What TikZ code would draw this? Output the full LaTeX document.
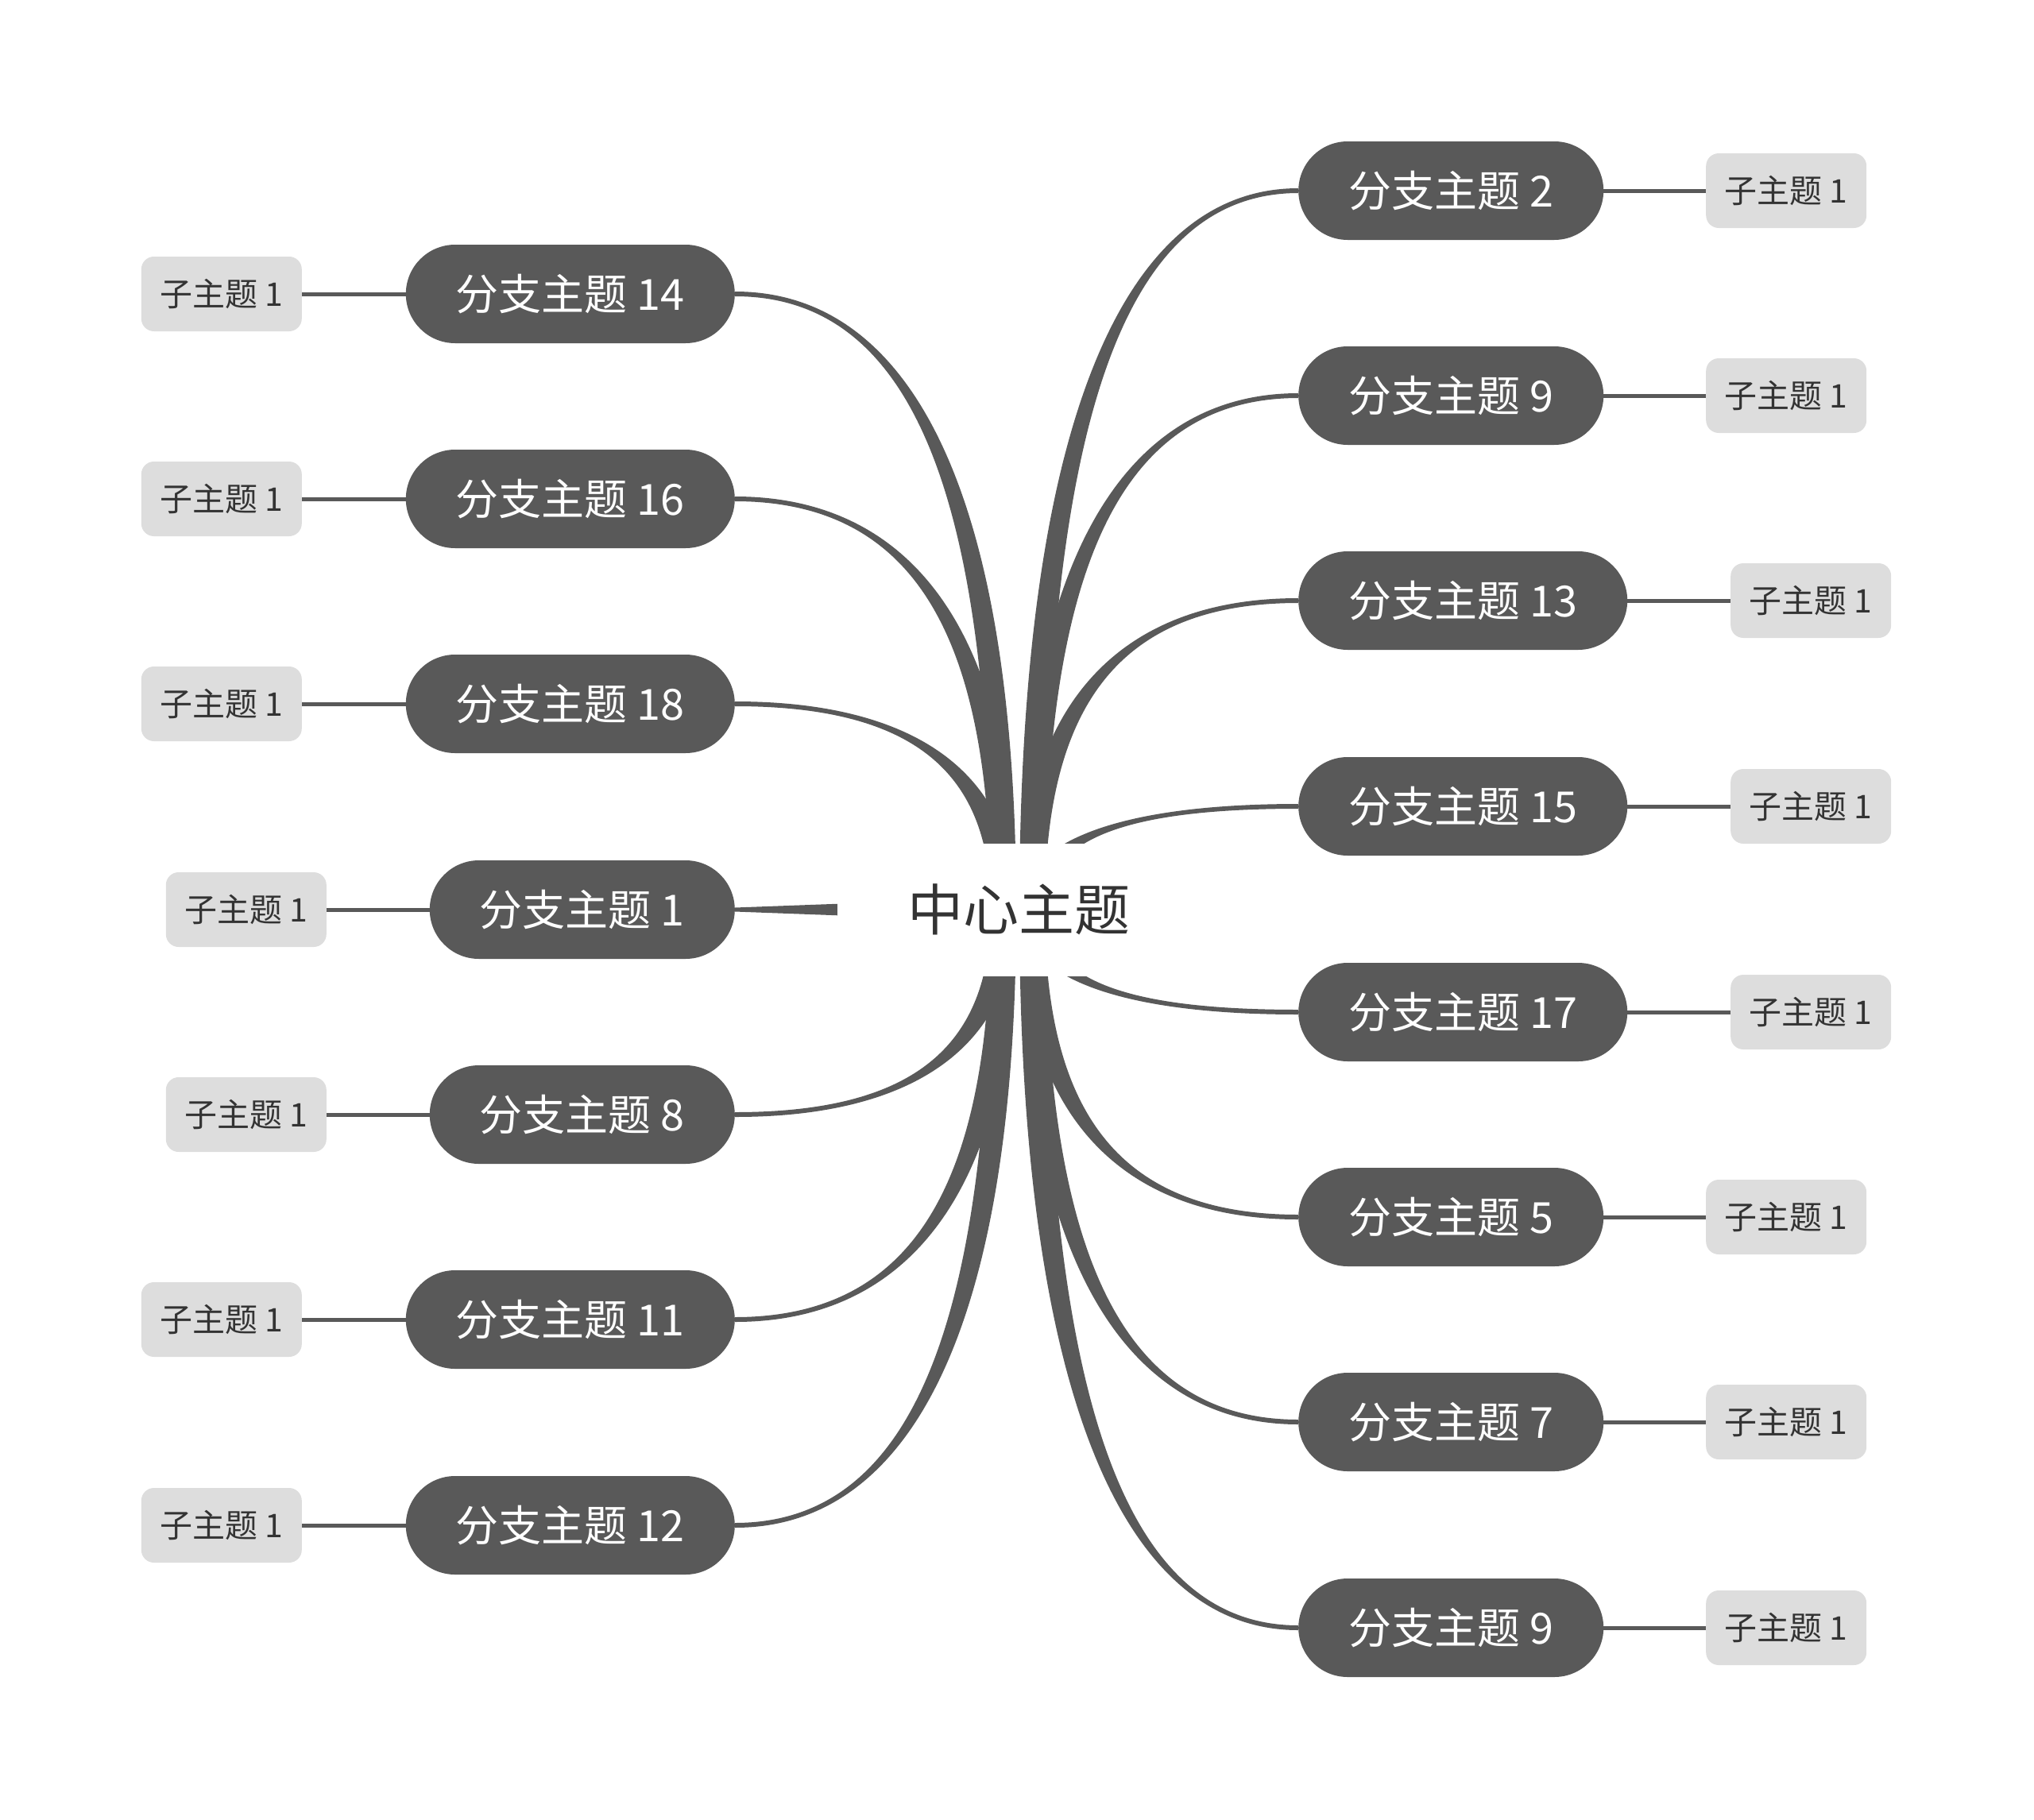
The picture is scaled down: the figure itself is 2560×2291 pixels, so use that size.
\documentclass[tikz,border=0pt]{standalone}
\usepackage{fontspec}
\setmainfont{Noto Sans CJK SC}
\usetikzlibrary{calc}
\definecolor{dk}{HTML}{595959}
\definecolor{lt}{HTML}{DDDDDD}
\definecolor{tx}{HTML}{333333}
\pgfdeclarelayer{bg}
\pgfsetlayers{bg,main}
% #1 node anchor, #2 centre coordinate, #3 y side, #4 x side
\newcommand\mmtaper[4]{%
  \fill[linkc] let \p1=(#1), \p2=(#2) in
    (\x1,{\y1+(#3)*3pt}) .. controls ({\x1+2/3*(\x2-\x1)},{\y1+(#3)*3pt}) and ({\x2+(#4)*16pt},{\y2+2/3*(\y1-\y2)}) .. ({\x2+(#4)*16pt},\y2)
    -- ({\x2-(#4)*16pt},\y2) .. controls ({\x2-(#4)*16pt},{\y2+2/3*(\y1-\y2)}) and ({\x1+2/3*(\x2-\x1)},{\y1-(#3)*3pt}) .. (\x1,{\y1-(#3)*3pt}) -- cycle;}
\begin{document}
\begin{tikzpicture}[x=1pt,y=-1pt,
  branch/.style={fill=dk, text=white, rounded corners=62pt, minimum height=124pt, inner sep=0pt, font=\fontsize{54}{60}\selectfont},
  bone/.style={branch, minimum width=384pt},
  btwo/.style={branch, minimum width=414pt},
  sub/.style={fill=lt, text=tx, rounded corners=16pt, minimum width=202pt, minimum height=94pt, inner sep=0pt, font=\fontsize{41}{48}\selectfont},
  sublink/.style={draw=dk, line width=5pt},
  linkc/.style={fill=dk}]
\useasboundingbox (0,0) rectangle (2560,2291);
\coordinate (cL) at (1263,1145);
\coordinate (cR) at (1299,1145);
% centre
\node[fill=white, text=tx, minimum width=456pt, minimum height=167pt, inner sep=0pt, font=\fontsize{70}{80}\selectfont] (c) at (1282,1145) {中心主题};
% right branches
\node[bone, anchor=west] (r2)  at (1634,240)  {分支主题 2};
\node[bone, anchor=west] (r9a) at (1634,498)  {分支主题 9};
\node[btwo, anchor=west] (r13) at (1634,756)  {分支主题 13};
\node[btwo, anchor=west] (r15) at (1634,1015) {分支主题 15};
\node[btwo, anchor=west] (r17) at (1634,1274) {分支主题 17};
\node[bone, anchor=west] (r5)  at (1634,1532) {分支主题 5};
\node[bone, anchor=west] (r7)  at (1634,1790) {分支主题 7};
\node[bone, anchor=west] (r9b) at (1634,2049) {分支主题 9};
% left branches
\node[btwo, anchor=east] (l14) at (925,370)  {分支主题 14};
\node[btwo, anchor=east] (l16) at (925,628)  {分支主题 16};
\node[btwo, anchor=east] (l18) at (925,886)  {分支主题 18};
\node[bone, anchor=east] (l1)  at (925,1145) {分支主题 1};
\node[bone, anchor=east] (l8)  at (925,1403) {分支主题 8};
\node[btwo, anchor=east] (l11) at (925,1661) {分支主题 11};
\node[btwo, anchor=east] (l12) at (925,1920) {分支主题 12};
% right subtopics
\node[sub, anchor=west] (s2)  at (2147,240)  {子主题 1};
\node[sub, anchor=west] (s9a) at (2147,498)  {子主题 1};
\node[sub, anchor=west] (s13) at (2178,756)  {子主题 1};
\node[sub, anchor=west] (s15) at (2178,1015) {子主题 1};
\node[sub, anchor=west] (s17) at (2178,1274) {子主题 1};
\node[sub, anchor=west] (s5)  at (2147,1532) {子主题 1};
\node[sub, anchor=west] (s7)  at (2147,1790) {子主题 1};
\node[sub, anchor=west] (s9b) at (2147,2049) {子主题 1};
% left subtopics
\node[sub, anchor=east] (t14) at (380,370)  {子主题 1};
\node[sub, anchor=east] (t16) at (380,628)  {子主题 1};
\node[sub, anchor=east] (t18) at (380,886)  {子主题 1};
\node[sub, anchor=east] (t1)  at (411,1145) {子主题 1};
\node[sub, anchor=east] (t8)  at (411,1403) {子主题 1};
\node[sub, anchor=east] (t11) at (380,1661) {子主题 1};
\node[sub, anchor=east] (t12) at (380,1920) {子主题 1};
\begin{pgfonlayer}{bg}
  % branch connectors
  \mmtaper{l14.east}{cL}{1}{1}
  \mmtaper{l16.east}{cL}{1}{1}
  \mmtaper{l18.east}{cL}{1}{1}
  \mmtaper{l8.east}{cL}{-1}{1}
  \mmtaper{l11.east}{cL}{-1}{1}
  \mmtaper{l12.east}{cL}{-1}{1}
  \fill[linkc] let \p1=(l1.east), \p2=(cL) in
    (\x1,{\y1+2.5pt}) -- (\x2,{\y2+15pt}) -- (\x2,{\y2-15pt}) -- (\x1,{\y1-2.5pt}) -- cycle;
  \mmtaper{r2.west}{cR}{1}{-1}
  \mmtaper{r9a.west}{cR}{1}{-1}
  \mmtaper{r13.west}{cR}{1}{-1}
  \mmtaper{r15.west}{cR}{1}{-1}
  \mmtaper{r17.west}{cR}{-1}{-1}
  \mmtaper{r5.west}{cR}{-1}{-1}
  \mmtaper{r7.west}{cR}{-1}{-1}
  \mmtaper{r9b.west}{cR}{-1}{-1}
  % subtopic connectors
  \draw[sublink] (r2.east) -- (s2.west);
  \draw[sublink] (r9a.east) -- (s9a.west);
  \draw[sublink] (r13.east) -- (s13.west);
  \draw[sublink] (r15.east) -- (s15.west);
  \draw[sublink] (r17.east) -- (s17.west);
  \draw[sublink] (r5.east) -- (s5.west);
  \draw[sublink] (r7.east) -- (s7.west);
  \draw[sublink] (r9b.east) -- (s9b.west);
  \draw[sublink] (l14.west) -- (t14.east);
  \draw[sublink] (l16.west) -- (t16.east);
  \draw[sublink] (l18.west) -- (t18.east);
  \draw[sublink] (l1.west) -- (t1.east);
  \draw[sublink] (l8.west) -- (t8.east);
  \draw[sublink] (l11.west) -- (t11.east);
  \draw[sublink] (l12.west) -- (t12.east);
\end{pgfonlayer}
\end{tikzpicture}
\end{document}
